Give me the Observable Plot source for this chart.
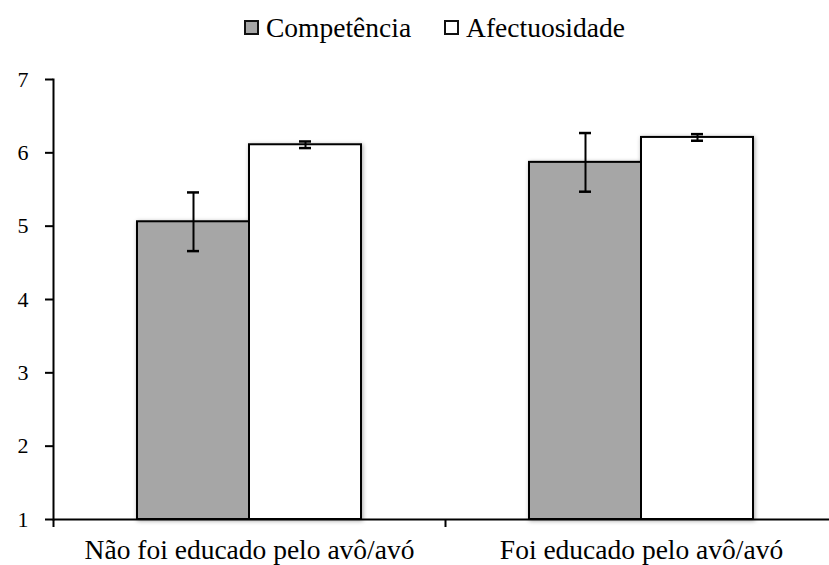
<!DOCTYPE html>
<html>
<head>
<meta charset="utf-8">
<script src="https://cdn.jsdelivr.net/npm/d3@7"></script>
<script src="https://cdn.jsdelivr.net/npm/@observablehq/plot@0.6"></script>
<style>
  body { margin: 0; background: #fff; font-family: "Liberation Serif", serif; }
  #legend { position: relative; height: 60px; width: 829px; }
  #legend .items { position: absolute; top: 14px; left: 244px; display: flex; align-items: center;
    font-size: 27.5px; line-height: 27.5px; color: #000; }
  #legend .sw { width: 11px; height: 11px; border: 2px solid #111; margin-right: 7px; }
  #legend .item { display: flex; align-items: center; margin-right: 33px; }
</style>
</head>
<body>
<div id="legend"></div>
<div id="chart"></div>
<script>
const groups = ["Não foi educado pelo avô/avó", "Foi educado pelo avô/avó"];
const series = ["Competência", "Afectuosidade"];
const colors = ["#a6a6a6", "#ffffff"];
const competencia = [5.06, 5.87];
const afectuosidade = [6.11, 6.21];
const errCompetencia = [0.40, 0.40];
const errAfectuosidade = [0.045, 0.045];
const yTicks = [1, 2, 3, 4, 5, 6, 7];

const data = [];
groups.forEach((g, i) => {
  data.push({group: g, series: series[0], value: competencia[i], err: errCompetencia[i]});
  data.push({group: g, series: series[1], value: afectuosidade[i], err: errAfectuosidade[i]});
});

// legend
const leg = document.getElementById("legend");
const items = document.createElement("div");
items.className = "items";
series.forEach((s, i) => {
  const it = document.createElement("div");
  it.className = "item";
  const sw = document.createElement("div");
  sw.className = "sw";
  sw.style.background = colors[i];
  const t = document.createElement("span");
  t.textContent = s;
  it.appendChild(sw); it.appendChild(t);
  items.appendChild(it);
});
leg.appendChild(items);

const chart = Plot.plot({
  width: 829,
  height: 505,
  marginLeft: 53,
  marginRight: -8,
  marginTop: 19,
  marginBottom: 46,
  style: {fontFamily: "Liberation Serif, serif", fontSize: "22px", color: "#000", background: "#fff", overflow: "visible"},
  fx: {domain: groups, padding: 0, label: null},
  x: {domain: series, paddingInner: 0, paddingOuter: 0.74, axis: null},
  y: {domain: [1, 7], label: null},
  color: {domain: series, range: colors},
  marks: [
    Plot.barY(data, {fx: "group", x: "series", y1: 1, y2: "value", fill: "series", stroke: "#000", strokeWidth: 2}),
    Plot.ruleX(data, {fx: "group", x: "series", y1: d => d.value - d.err, y2: d => d.value + d.err, stroke: "#000", strokeWidth: 2}),
    Plot.tickY(data, {fx: "group", x: "series", y: d => d.value + d.err, insetLeft: 50, insetRight: 50, stroke: "#000", strokeWidth: 2.5}),
    Plot.tickY(data, {fx: "group", x: "series", y: d => d.value - d.err, insetLeft: 50, insetRight: 50, stroke: "#000", strokeWidth: 2.5}),
    Plot.ruleY([1], {stroke: "#000", strokeWidth: 2}),
    Plot.frame({anchor: "left", facet: "super", stroke: "#000", strokeWidth: 2}),
    Plot.axisY({ticks: yTicks, tickSize: 8, tickPadding: 17, fontSize: 22, label: null, tickFormat: d => d, strokeWidth: 2}),
    Plot.axisFx({anchor: "bottom", tickSize: 0, tickPadding: 20, fontSize: 27.5, label: null}),
    Plot.axisFx({anchor: "bottom", tickSize: 8, tickFormat: () => "", dx: -196, label: null, strokeWidth: 2})
  ]
});
document.getElementById("chart").appendChild(chart);
chart.querySelectorAll('g[aria-label="bar"]').forEach(g => {
  g.style.filter = "drop-shadow(1px 1px 2px rgba(0,0,0,0.35))";
});
</script>
</body>
</html>
